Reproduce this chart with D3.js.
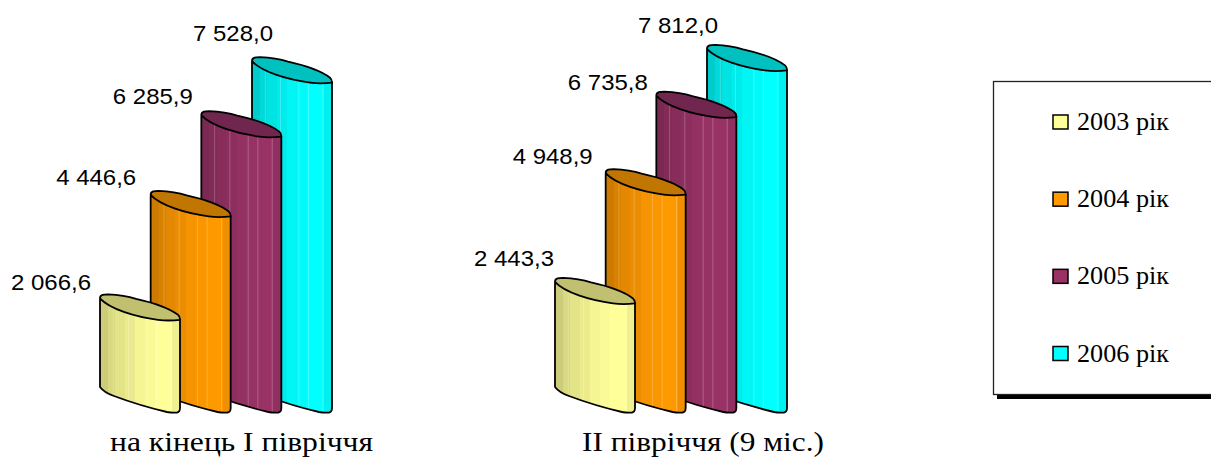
<!DOCTYPE html>
<html><head><meta charset="utf-8">
<script src="https://cdn.jsdelivr.net/npm/d3@7/dist/d3.min.js"></script>
<style>html,body{margin:0;background:#fff;overflow:hidden}svg{display:block}</style>
</head><body><svg id="c" width="1211" height="457"></svg>
<script>
// Data
const periods = ["на кінець І півріччя", "ІІ півріччя (9 міс.)"];
const years = ["2003 рік", "2004 рік", "2005 рік", "2006 рік"];
const firstHalf = [2066.6, 4446.6, 6285.9, 7528.0];
const nineMonths = [2443.3, 4948.9, 6735.8, 7812.0];
const seriesByPeriod = [firstHalf, nineMonths];
const labelTexts = [["2 066,6", "4 446,6", "6 285,9", "7 528,0"], ["2 443,3", "4 948,9", "6 735,8", "7 812,0"]];

// Presentation
const faceColors = ["#ffff99", "#ff9900", "#993366", "#00ffff"];
const capColors = ["#c0c070", "#c07600", "#70264f", "#00c0c0"];
const labelDx = [[-89, -94.5, -88.5, -59], [-81, -93, -88.5, -69]];
const labelBase = [[289.5, 184.5, 103.5, 40.5], [265.5, 163.5, 89.5, 32.5]];

const svg = d3.select("#c");
const defs = svg.append("defs");

const y = d3.scaleLinear().domain([0, 8000]).range([384, 36.7]);
const groupX = d3.scaleOrdinal().domain([0, 1]).range([100, 555]);
const seriesX = d3.scaleLinear().domain([0, 3]).range([0, 152]);
const barW = 80;

// Vertical shading bands across a cylinder: [end of band as a fraction of width, brightness]
const bands = [[0.10, 0.80], [0.19, 0.85], [0.31, 0.89], [0.44, 0.92], [0.56, 0.96], [0.69, 0.98], [0.90, 1], [1, 0.94]];
// Thin highlight lines inside the cylinder, as fractions of its width
const glints = [0.16, 0.35, 0.58, 0.70, 0.88];

faceColors.forEach((c, i) => {
  const g = defs.append("linearGradient").attr("id", "face" + i);
  const col = d3.rgb(c);
  bands.forEach(([end, s], k) => {
    const f = `rgb(${col.r * s},${col.g * s},${col.b * s})`;
    g.append("stop").attr("offset", k ? bands[k - 1][0] : 0).attr("stop-color", f);
    g.append("stop").attr("offset", end).attr("stop-color", f);
  });
});

function bodyPath(x, top) {
  const yb = y(0) + 3;
  return `M${x},${top + 5}L${x},${yb}C${x + 3},${yb + 4} ${x + 8},${yb + 7} ${x + 14},${yb + 9}`
    + `C${x + 30},${yb + 15} ${x + 50},${yb + 21} ${x + 67},${yb + 25}`
    + `Q${x + 72},${yb + 26} ${x + 77},${yb + 25.5}Q${x + barW},${yb + 25} ${x + barW},${yb + 21}`
    + `L${x + barW},${top + 25}Z`;
}
function capPath(x, top) {
  return `M${x},${top + 4}C${x},${top} ${x + 4},${top} ${x + 8},${top}`
    + `C${x + 18},${top + 0.5} ${x + 28},${top + 2} ${x + 36},${top + 4.5}`
    + `C${x + 52},${top + 8} ${x + 68},${top + 13} ${x + 78},${top + 20.5}Q${x + barW},${top + 22} ${x + barW},${top + 25.5}`
    + `C${x + 72},${top + 26.5} ${x + 65},${top + 26.5} ${x + 58},${top + 25.5}`
    + `C${x + 36},${top + 22.5} ${x + 10},${top + 15} ${x},${top + 4}Z`;
}

seriesByPeriod.forEach((vals, p) => {
  const g = svg.append("g");
  // Back cylinders first so nearer ones overlap them
  d3.range(vals.length).reverse().forEach(i => {
    const x = groupX(p) + seriesX(i), top = y(vals[i]);
    const clipId = `clip${p}-${i}`;
    defs.append("clipPath").attr("id", clipId).append("path").attr("d", bodyPath(x, top));
    g.append("path").attr("d", bodyPath(x, top)).attr("fill", `url(#face${i})`);
    g.append("g").attr("clip-path", `url(#${clipId})`).selectAll("rect").data(glints).join("rect")
      .attr("x", d => x + d * barW).attr("y", top).attr("width", 1).attr("height", y(0) + 40 - top)
      .attr("fill", "#fff").attr("opacity", 0.22);
    g.append("path").attr("d", bodyPath(x, top)).attr("fill", "none")
      .attr("stroke", "#000").attr("stroke-width", 1.8).attr("stroke-linejoin", "round");
    g.append("path").attr("d", capPath(x, top)).attr("fill", capColors[i])
      .attr("stroke", "#000").attr("stroke-width", 1.8).attr("stroke-linejoin", "round");
  });
  vals.forEach((v, i) => {
    g.append("text").text(labelTexts[p][i])
      .attr("x", groupX(p) + seriesX(i) + labelDx[p][i]).attr("y", labelBase[p][i])
      .attr("font-family", "'Liberation Sans',Arial,sans-serif").attr("font-size", 22)
      .attr("textLength", 80).attr("lengthAdjust", "spacingAndGlyphs").attr("fill", "#000");
  });
});

// Category captions
const capX = [[110, 263], [582, 242]];
periods.forEach((t, i) => {
  svg.append("text").text(t).attr("x", capX[i][0]).attr("y", 451)
    .attr("font-family", "'Liberation Serif','Times New Roman',serif").attr("font-size", 27)
    .attr("textLength", capX[i][1]).attr("lengthAdjust", "spacingAndGlyphs").attr("fill", "#000");
});

// Legend frame: drop shadow, then white box running off the right edge
svg.append("rect").attr("x", 997).attr("y", 85).attr("width", 220).attr("height", 314).attr("fill", "#000");
svg.append("rect").attr("x", 993.5).attr("y", 81.5).attr("width", 230).attr("height", 313)
  .attr("fill", "#fff").attr("stroke", "#222").attr("stroke-width", 1.3);

const legendY = d3.scalePoint().domain(years).range([122, 353.5]);
years.forEach((t, i) => {
  const cy = legendY(t);
  svg.append("rect").attr("x", 1053).attr("y", cy - 7).attr("width", 15).attr("height", 14)
    .attr("fill", faceColors[i]).attr("stroke", "#000").attr("stroke-width", 1.5);
  svg.append("text").text(t).attr("x", 1077).attr("y", cy + 8)
    .attr("font-family", "'Liberation Serif','Times New Roman',serif").attr("font-size", 25)
    .attr("textLength", 92).attr("lengthAdjust", "spacingAndGlyphs").attr("fill", "#000");
});
</script></body></html>
